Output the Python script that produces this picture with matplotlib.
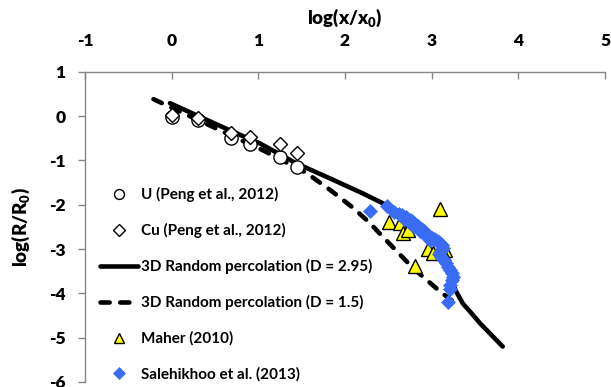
import matplotlib
matplotlib.use("Agg")
import matplotlib.pyplot as plt
from matplotlib.lines import Line2D

plt.rcParams['font.family'] = ['Lato', 'DejaVu Sans']

# ---- data ----
u_x = [0.0, 0.30, 0.69, 0.90, 1.25, 1.45]
u_y = [-0.03, -0.08, -0.50, -0.62, -0.93, -1.14]

cu_x = [0.0, 0.30, 0.69, 0.90, 1.25, 1.45]
cu_y = [0.02, -0.04, -0.39, -0.48, -0.62, -0.84]

solid_x = [-0.02, 0.69, 1.02, 1.44, 1.83, 2.21, 2.48, 2.67, 2.85, 3.02, 3.12, 3.23, 3.28, 3.36, 3.46, 3.56, 3.82]
solid_y = [0.29, -0.34, -0.62, -1.07, -1.41, -1.75, -2.01, -2.22, -2.42, -2.70, -3.05, -3.70, -3.95, -4.23, -4.45, -4.68, -5.20]

dash_x = [-0.21, 1.06, 1.56, 1.83, 2.10, 2.29, 2.40, 2.79, 3.08, 3.32]
dash_y = [0.38, -0.78, -1.29, -1.67, -2.08, -2.42, -2.65, -3.44, -3.93, -4.30]

maher_x = [3.10, 2.51, 2.63, 2.67, 2.73, 2.96, 3.02, 3.15, 3.13, 2.81]
maher_y = [-2.10, -2.39, -2.42, -2.65, -2.57, -2.99, -3.10, -3.02, -3.10, -3.39]

sal_x = [2.29, 2.49, 2.57, 2.62, 2.66, 2.70, 2.72, 2.75, 2.77, 2.80, 2.82, 2.84,
         2.86, 2.88, 2.90, 2.92, 2.94, 2.96, 2.98, 3.00, 3.03, 3.05, 3.08, 3.10,
         3.12, 3.13, 3.12, 3.10, 3.09, 3.11, 3.14, 3.16, 3.19, 3.21, 3.24, 3.25,
         3.23, 3.21, 3.21, 3.19, 2.68, 2.74, 2.80, 2.86, 2.92, 2.98]
sal_y = [-2.14, -2.03, -2.17, -2.22, -2.24, -2.27, -2.32, -2.35, -2.37, -2.42, -2.46, -2.48,
         -2.52, -2.55, -2.58, -2.62, -2.66, -2.70, -2.72, -2.75, -2.78, -2.80, -2.84, -2.88,
         -2.92, -2.97, -3.02, -3.06, -3.12, -3.17, -3.25, -3.32, -3.40, -3.47, -3.55, -3.63,
         -3.70, -3.82, -3.90, -4.19, -2.32, -2.40, -2.50, -2.60, -2.68, -2.80]

x_ticks = [-1, 0, 1, 2, 3, 4, 5]
y_ticks = [1, 0, -1, -2, -3, -4, -5, -6]

labels = ["U (Peng et al., 2012)", "Cu (Peng et al., 2012)",
          "3D Random percolation (D = 2.95)", "3D Random percolation (D = 1.5)",
          "Maher (2010)", "Salehikhoo et al. (2013)"]

# ---- figure ----
fig = plt.figure(figsize=(6.11, 3.87), dpi=100)
ax = fig.add_axes([85/611, 5/387, 520/611, 310.3/387])
ax.set_xlim(-1, 5)
ax.set_ylim(-6, 1)

spine_c = '#868686'
ax.spines['right'].set_visible(False)
ax.spines['bottom'].set_visible(False)
ax.spines['left'].set_color(spine_c)
ax.spines['top'].set_color(spine_c)
ax.spines['left'].set_linewidth(1.0)
ax.spines['top'].set_linewidth(1.0)

ax.xaxis.tick_top()
ax.xaxis.set_label_position('top')
ax.set_xticks(x_ticks)
ax.set_yticks(y_ticks)
ax.set_xticklabels([str(v) for v in x_ticks])
ax.set_yticklabels([str(v) for v in y_ticks])
ax.tick_params(axis='x', direction='in', length=5, width=1, color=spine_c, pad=16,
               labelsize=12.5)
ax.tick_params(axis='y', direction='out', length=5, width=1, color=spine_c, pad=9,
               labelsize=12.5)
for t in ax.get_xticklabels() + ax.get_yticklabels():
    t.set_fontweight('heavy')

ax.set_xlabel('log(x/x$_\\mathregular{0}$)', fontsize=13.5, fontweight='heavy', labelpad=7)
ax.set_ylabel('log(R/R$_\\mathregular{0}$)', fontsize=13.5, fontweight='heavy', labelpad=12)

l_solid, = ax.plot(solid_x, solid_y, color='black', lw=3.3, solid_capstyle='round',
                   solid_joinstyle='round', zorder=2)
l_dash, = ax.plot(dash_x, dash_y, color='black', lw=3.3, linestyle=(0, (2.0, 2.3)),
                  dash_capstyle='round', zorder=2)
h_u, = ax.plot(u_x, u_y, 'o', ms=9.5, mfc='white', mec='black', mew=1.0, zorder=3)
h_cu, = ax.plot(cu_x, cu_y, 'D', ms=7.5, mfc='white', mec='black', mew=1.0, zorder=4)
h_m, = ax.plot(maher_x, maher_y, '^', ms=10, mfc='#FFFF00', mec='black', mew=1.0, zorder=5)
h_s, = ax.plot(sal_x, sal_y, 'D', ms=7.5, mfc='#3A6BF5', mec='#3A6BF5', mew=0.5, zorder=6)

leg = ax.legend([h_u, h_cu, l_solid, l_dash, h_m, h_s], labels,
                loc='upper left', bbox_to_anchor=(100/611, 1 - 187/387),
                bbox_transform=fig.transFigure, frameon=False,
                prop={'size': 11, 'weight': 'bold'}, handlelength=2.5,
                handletextpad=0.2, labelspacing=1.38, borderpad=0, borderaxespad=0,
                markerscale=0.75)

fig.savefig('out.png', dpi=100)
